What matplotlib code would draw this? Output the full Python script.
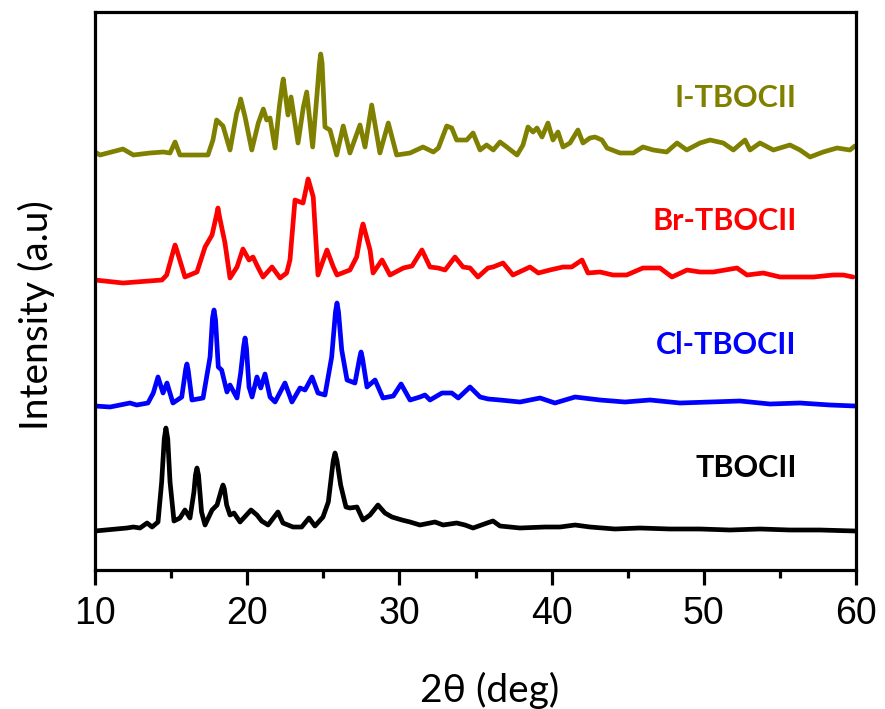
import matplotlib
matplotlib.use("Agg")
import matplotlib.pyplot as plt
from matplotlib.ticker import MultipleLocator

# ---- XRD patterns (2-theta in degrees, intensity in arbitrary units) ----
tbocii_2theta = [10.0, 12.1, 12.52, 12.96, 13.42, 13.75, 14.14, 14.38, 14.55, 14.66,
                 14.78, 14.93, 15.19, 15.58, 15.91, 16.24, 16.5, 16.6, 16.7, 16.8,
                 17.0, 17.23, 17.69, 18.02, 18.32, 18.41, 18.5, 18.65, 18.87, 19.13,
                 19.53, 20.25, 20.64, 20.95, 21.37, 22.02, 22.35, 23.01, 23.58, 24.06,
                 24.45, 24.98, 25.33, 25.65, 25.77, 25.9, 26.14, 26.49, 26.75, 27.21,
                 27.61, 28.07, 28.59, 29.05, 29.51, 30.17, 30.7, 31.35, 32.34, 32.87,
                 33.76, 34.31, 34.84, 35.76, 36.15, 36.61, 37.92, 39.57, 40.55, 41.54,
                 42.52, 44.16, 45.8, 47.78, 49.75, 51.72, 53.69, 55.66, 57.63, 59.93]
tbocii_int = [0, 3, 4, 3, 8, 4, 9, 49, 92, 103,
              92, 49, 10, 13, 21, 13, 39, 56, 63, 56,
              19, 6, 21, 26, 42, 46, 42, 26, 16, 18,
              9, 21, 16, 10, 6, 19, 8, 4, 4, 13,
              5, 14, 29, 70, 78, 70, 46, 24, 23, 24,
              11, 16, 26, 18, 14, 11, 9, 6, 9, 6,
              8, 6, 3, 8, 10, 5, 3, 4, 4, 6,
              4, 2, 3, 2, 2, 1, 2, 1, 1, 0]

cl_2theta = [10.0, 10.99, 12.3, 12.74, 13.48, 13.83, 14.14, 14.47, 14.73, 15.12,
             15.7, 15.96, 16.04, 16.12, 16.37, 17.1, 17.56, 17.72, 17.82, 17.92,
             18.1, 18.32, 18.67, 18.87, 19.33, 19.57, 19.77, 19.86, 19.95, 20.12,
             20.32, 20.64, 20.89, 21.17, 21.5, 21.83, 22.48, 22.94, 23.47, 23.8,
             24.26, 24.65, 25.11, 25.55, 25.8, 25.9, 26.0, 26.21, 26.56, 27.08,
             27.4, 27.48, 27.57, 27.87, 28.4, 28.92, 29.6, 30.11, 30.7, 31.35,
             31.68, 32.01, 32.8, 33.44, 33.87, 34.64, 35.3, 35.84, 36.61, 37.92,
             39.24, 40.22, 41.54, 43.18, 44.82, 46.47, 48.44, 50.41, 52.38, 54.35,
             56.32, 58.29, 59.93]
cl_int = [0, -1, 3, 1, 3, 13, 29, 13, 23, 3,
          9, 37, 42, 36, 6, 8, 49, 88, 96, 86,
          39, 36, 14, 21, 8, 33, 60, 68, 58, 19,
          9, 29, 18, 32, 9, 4, 23, 4, 18, 16,
          29, 13, 11, 49, 94, 103, 94, 56, 26, 23,
          49, 54, 48, 19, 26, 8, 10, 22, 6, 9,
          11, 6, 13, 13, 8, 19, 9, 7, 6, 4,
          8, 3, 9, 6, 4, 6, 3, 4, 5, 2,
          3, 1, 0]

br_2theta = [10.0, 11.84, 14.4, 14.71, 15.18, 15.26, 15.35, 15.91, 16.7, 17.23,
             17.69, 18.0, 18.08, 18.17, 18.54, 18.87, 19.33, 19.72, 20.12, 20.38,
             20.73, 21.04, 21.63, 22.16, 22.59, 22.81, 23.14, 23.47, 23.67, 23.92,
             24.0, 24.1, 24.34, 24.65, 25.0, 25.24, 25.66, 25.9, 26.75, 27.19,
             27.52, 27.61, 27.7, 28.07, 28.27, 28.86, 29.38, 30.26, 30.83, 31.48,
             32.01, 32.54, 33.0, 33.65, 34.18, 34.64, 35.16, 35.82, 36.15, 36.81,
             37.46, 38.58, 39.13, 39.89, 40.75, 41.32, 42.0, 42.39, 43.18, 44.03,
             44.93, 46.0, 47.12, 47.91, 48.9, 49.75, 50.63, 52.18, 52.84, 53.91,
             55.01, 56.12, 57.2, 58.49, 59.17, 59.8]
br_int = [0, -3, 0, 5, 31, 35, 31, 3, 8, 33,
          45, 66, 72, 64, 37, 2, 13, 31, 20, 23,
          12, 3, 13, 2, 7, 20, 80, 78, 77, 95,
          101, 96, 83, 5, 20, 30, 13, 5, 10, 23,
          51, 56, 51, 30, 7, 20, 5, 12, 14, 30,
          13, 12, 10, 23, 13, 12, 3, 12, 13, 17,
          5, 13, 7, 10, 13, 13, 20, 7, 8, 5,
          5, 12, 12, 3, 10, 8, 8, 12, 5, 7,
          3, 3, 3, 5, 5, 3]

i_2theta = [10.0, 10.33, 11.84, 12.52, 13.61, 14.49, 14.93, 15.26, 15.58, 16.24,
            17.42, 17.75, 17.99, 18.41, 18.87, 19.31, 19.5, 19.57, 19.65, 19.86,
            20.3, 20.73, 21.06, 21.28, 21.5, 21.83, 22.11, 22.3, 22.37, 22.44,
            22.68, 22.88, 23.34, 23.69, 23.91, 24.3, 24.61, 24.75, 24.83, 24.92,
            25.0, 25.11, 25.44, 25.88, 26.31, 26.75, 27.41, 27.74, 28.18, 28.72,
            29.27, 29.82, 30.7, 31.55, 32.23, 32.56, 33.11, 33.44, 33.76, 34.42,
            34.84, 35.3, 35.73, 36.17, 36.61, 37.05, 37.73, 38.12, 38.45, 38.78,
            39.04, 39.37, 39.76, 40.09, 40.42, 40.75, 41.21, 41.73, 42.06, 42.52,
            42.85, 43.31, 43.64, 44.49, 45.37, 46.0, 46.68, 47.56, 48.24, 48.88,
            49.75, 50.41, 51.28, 51.94, 52.71, 53.04, 53.69, 54.57, 55.66, 56.32,
            56.98, 57.85, 58.75, 59.6, 59.93]
i_int = [3, 0, 6, 0, 2, 3, 2, 13, 0, 0,
         0, 15, 35, 29, 5, 42, 51, 56, 51, 38,
         5, 32, 46, 35, 37, 7, 48, 70, 76, 68,
         40, 58, 12, 48, 63, 8, 65, 92, 101, 92,
         65, 28, 25, 0, 29, 2, 30, 8, 50, 2,
         32, 0, 2, 8, 3, 7, 29, 27, 15, 15,
         22, 5, 10, 5, 13, 8, 0, 10, 28, 23,
         27, 18, 32, 15, 23, 8, 12, 25, 12, 17,
         18, 15, 7, 2, 2, 8, 5, 3, 12, 5,
         12, 15, 12, 5, 15, 5, 12, 5, 10, 5,
         -2, 3, 7, 5, 9]

sample_names = ["TBOCII", "Cl-TBOCII", "Br-TBOCII", "I-TBOCII"]
sample_colors = ["#000000", "#0000ff", "#ff0000", "#808000"]
stack_offsets = [39, 164, 290, 415]
label_heights = [102, 225, 349, 472]
x_ticks = [10, 20, 30, 40, 50, 60]

patterns = [(tbocii_2theta, tbocii_int), (cl_2theta, cl_int),
            (br_2theta, br_int), (i_2theta, i_int)]

fig = plt.figure(figsize=(8.85, 7.09), dpi=100)
ax = fig.add_axes([95 / 885, 1 - 570 / 709, (856 - 95) / 885, (570 - 12) / 709])

for (tt, inten), off, col in zip(patterns, stack_offsets, sample_colors):
    ax.plot(tt, [v + off for v in inten], color=col, lw=3.4,
            solid_joinstyle="round", solid_capstyle="round")

label_font = ["Lato", "Open Sans", "DejaVu Sans"]
for name, col, h in zip(sample_names, sample_colors, label_heights):
    ax.text(56.1, h, name, color=col, ha="right", va="center",
            fontsize=22, fontweight="bold", family=label_font)

ax.set_xlim(10, 60)
ax.set_ylim(0, 558)
ax.set_xticks(x_ticks)
ax.xaxis.set_minor_locator(MultipleLocator(5))
ax.set_yticks([])
for sp in ax.spines.values():
    sp.set_linewidth(2.3)
ax.tick_params(axis="x", which="major", direction="out", length=11, width=2.3,
               pad=8, labelsize=27)
ax.tick_params(axis="x", which="minor", direction="out", length=6, width=2.3)
for lab in ax.get_xticklabels():
    lab.set_family(["Liberation Sans", "DejaVu Sans"])

fig.text(490 / 885, 1 - 690 / 709, "2θ (deg)", ha="center", va="center",
         fontsize=28, family=label_font)
fig.text(36 / 885, 1 - 315 / 709, "Intensity (a.u)", ha="center", va="center",
         rotation=90, fontsize=28, family=label_font)

fig.savefig("out.png", dpi=100)
